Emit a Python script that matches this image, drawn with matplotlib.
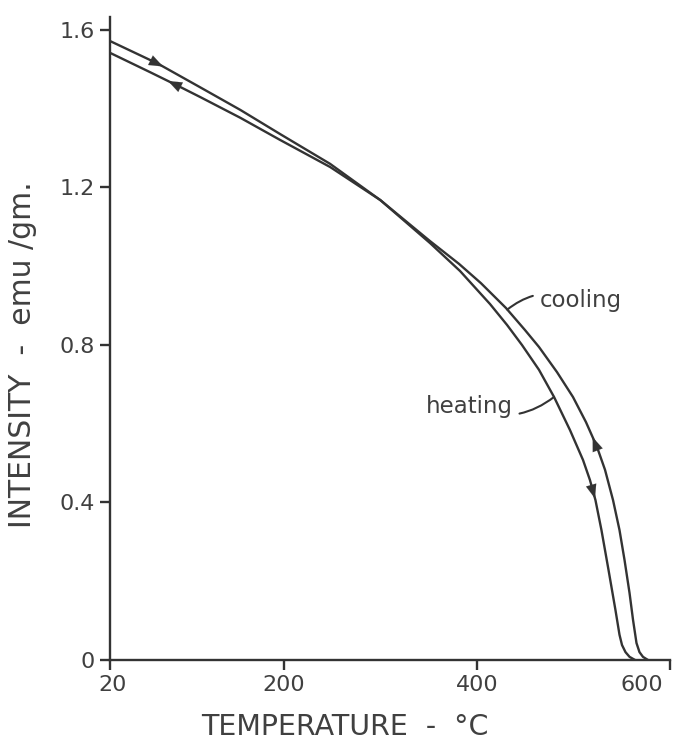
import numpy as np
import matplotlib
matplotlib.use("Agg")
import matplotlib.pyplot as plt
from matplotlib.transforms import ScaledTranslation

# Data
heat_T = [20, 70, 113, 155, 196, 248, 300, 351.4, 382.5, 413.6, 431.2, 446.7, 464.3, 479.9, 496.4,
          509.9, 517.1, 522.8, 529.0, 536.3, 543.5, 547.7, 550.3, 553.9, 558.1, 563.8]
heat_I = [1.572, 1.514, 1.455, 1.397, 1.336, 1.260, 1.168, 1.059, 0.988, 0.904, 0.851, 0.800, 0.737, 0.668, 0.584,
          0.508, 0.457, 0.406, 0.330, 0.229, 0.127, 0.064, 0.038, 0.020, 0.008, 0.0]
cool_T = [20, 61.4, 94.6, 113.2, 155, 196, 248, 300, 351.4, 381.5, 404.2, 430.1, 449.8, 464.3, 483.0, 499.5,
          513.0, 524.4, 532.7, 541.0, 547.7, 552.9, 558.1, 561.7, 565.3, 568.4, 572.0, 577.2]
cool_I = [1.542, 1.493, 1.453, 1.430, 1.377, 1.321, 1.252, 1.168, 1.064, 1.006, 0.957, 0.894, 0.838, 0.795, 0.731, 0.668,
          0.604, 0.541, 0.483, 0.406, 0.330, 0.254, 0.170, 0.102, 0.043, 0.020, 0.008, 0.0]

x_ticks = [20, 200, 400, 600]
x_ticklabels = ["20", "200", "400", "600"]
y_ticks = [0, 0.4, 0.8, 1.2, 1.6]
y_ticklabels = ["0", "0.4", "0.8", "1.2", "1.6"]

INK = "#333333"
TXT = "#404040"
plt.rcParams['font.family'] = ['DejaVu Sans']

fig = plt.figure(figsize=(6.73, 7.48), dpi=100)
ax = fig.add_axes([110/673, 1-660/748, 560/673, 643/748])

ax.plot(heat_T, heat_I, color=INK, lw=1.7, solid_capstyle='round', solid_joinstyle='round')
ax.plot(cool_T, cool_I, color=INK, lw=1.7, solid_capstyle='round', solid_joinstyle='round')

ax.set_xlim(20, 600)
ax.set_ylim(0, 1.633)

for s in ['top', 'right']:
    ax.spines[s].set_visible(False)
for s in ['left', 'bottom']:
    ax.spines[s].set_color(INK)
    ax.spines[s].set_linewidth(1.7)

ax.set_xticks(x_ticks)
ax.set_xticklabels(x_ticklabels)
ax.set_yticks(y_ticks)
ax.set_yticklabels(y_ticklabels)
ax.tick_params(direction='out', length=7, width=1.7, color=INK, labelcolor=TXT,
               labelsize=16, pad=4)
# last x label sits left of its tick in the reference
lbl = ax.get_xticklabels()[-1]
lbl.set_transform(lbl.get_transform() + ScaledTranslation(-28/100, 0, fig.dpi_scale_trans))
lbl0 = ax.get_xticklabels()[0]
lbl0.set_transform(lbl0.get_transform() + ScaledTranslation(3/100, 0, fig.dpi_scale_trans))

ax.set_xlabel("TEMPERATURE  -  °C", fontsize=20.5, color=TXT)
ax.xaxis.set_label_coords((345-110)/560, -(727-660)/643)
ax.xaxis.label.set_va('center')
ax.set_ylabel("INTENSITY  -  emu /gm.", fontsize=21.5, color=TXT)
ax.yaxis.set_label_coords(-(110-23)/560, (660-355)/643)
ax.yaxis.label.set_va('center')

AST = "-|>,head_length=1.0,head_width=0.38"


def arrow_on(T, I, t0, t1):
    T = np.asarray(T, float); I = np.asarray(I, float)
    y0 = np.interp(t0, T, I)
    y1 = np.interp(t1, T, I)
    ax.annotate("", xy=(t1, y1), xytext=(t0, y0),
                arrowprops=dict(arrowstyle=AST, color=INK, lw=0.1, shrinkA=0, shrinkB=0))


def arrow_on_I(T, I, i0, i1):
    T = np.asarray(T, float)[::-1]; I = np.asarray(I, float)[::-1]
    t0 = np.interp(i0, I, T)
    t1 = np.interp(i1, I, T)
    ax.annotate("", xy=(t1, i1), xytext=(t0, i0),
                arrowprops=dict(arrowstyle=AST, color=INK, lw=0.1, shrinkA=0, shrinkB=0))


# heating arrows (increasing T)
arrow_on(heat_T, heat_I, 60, 75)
arrow_on_I(heat_T, heat_I, 0.47, 0.41)
# cooling arrows (decreasing T)
arrow_on(cool_T, cool_I, 95, 80)
arrow_on_I(cool_T, cool_I, 0.50, 0.566)

# labels with leader lines
cT = np.interp(0.89, cool_I[::-1], cool_T[::-1])
ax.annotate("cooling", xy=(cT, 0.89), xytext=(465, 0.914),
            textcoords='data', fontsize=16.5, color=TXT, ha='left', va='center',
            arrowprops=dict(arrowstyle='-', color=INK, lw=1.5, shrinkA=3, shrinkB=0,
                            connectionstyle="arc3,rad=0.3"))
hT = np.interp(0.668, heat_I[::-1], heat_T[::-1])
ax.annotate("heating", xy=(hT, 0.668), xytext=(437, 0.643),
            textcoords='data', fontsize=16.5, color=TXT, ha='right', va='center',
            arrowprops=dict(arrowstyle='-', color=INK, lw=1.5, shrinkA=3, shrinkB=0,
                            connectionstyle="arc3,rad=0.3"))

fig.savefig("out.png", dpi=100)
